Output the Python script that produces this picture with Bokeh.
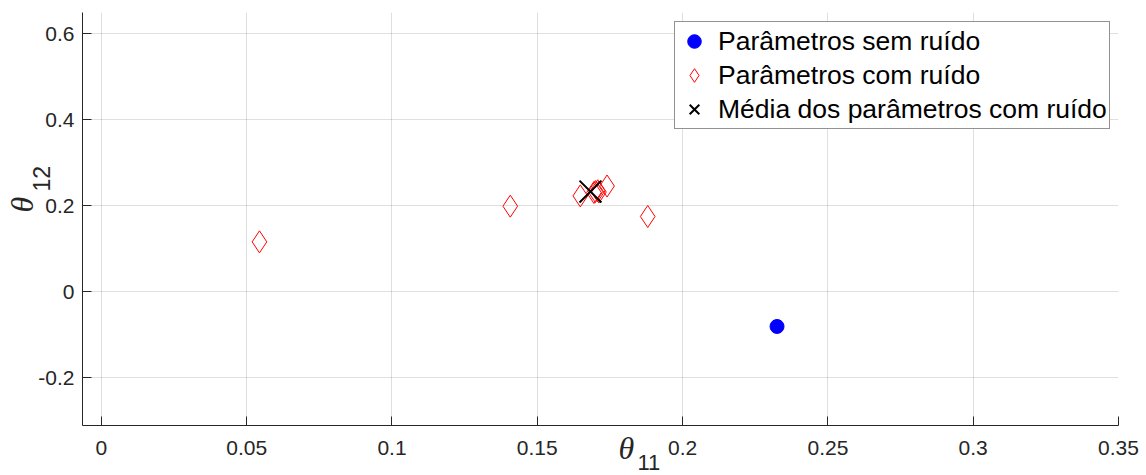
from bokeh.plotting import figure
from bokeh.models import Range1d, FixedTicker, Legend, LegendItem, Title
from bokeh.embed import file_html
from bokeh.resources import INLINE

# ---- data ----
clean_x = [0.2325]
clean_y = [-0.081]

noisy_x = [0.0544, 0.1407, 0.1880, 0.1648, 0.1695, 0.1700, 0.1708, 0.1712, 0.1740]
noisy_y = [0.116, 0.199, 0.175, 0.223, 0.231, 0.233, 0.235, 0.232, 0.246]

mean_x = [0.1683]
mean_y = [0.233]

x_ticks = [0, 0.05, 0.1, 0.15, 0.2, 0.25, 0.3, 0.35]
x_tick_labels = ["0", "0.05", "0.1", "0.15", "0.2", "0.25", "0.3", "0.35"]
y_ticks = [-0.2, 0, 0.2, 0.4, 0.6]
y_tick_labels = ["-0.2", "0", "0.2", "0.4", "0.6"]

legend_labels = ["Parâmetros sem ruído", "Parâmetros com ruído", "Média dos parâmetros com ruído"]
x_label = ("θ", "11")
y_label = ("θ", "12")

FONT = "Liberation Sans"
AX = "#262626"

p = figure(width=1146, height=475, output_backend="svg", toolbar_location=None,
           x_range=Range1d(-0.0065, 0.35), y_range=Range1d(-0.3116, 0.65))
p.min_border_left = 82
p.min_border_right = 28
p.min_border_top = 12
p.min_border_bottom = 50
p.outline_line_color = None
p.background_fill_color = "white"
p.border_fill_color = "white"

for ax, ticks, labels in ((p.xaxis[0], x_ticks, x_tick_labels), (p.yaxis[0], y_ticks, y_tick_labels)):
    ax.ticker = FixedTicker(ticks=ticks)
    ax.major_label_overrides = {t: l for t, l in zip(ticks, labels)}
    ax.major_tick_in = 9
    ax.major_tick_out = 0
    ax.minor_tick_line_color = None
    ax.axis_line_color = AX
    ax.major_tick_line_color = AX
    ax.major_label_text_color = AX
    ax.major_label_text_font = FONT
    ax.major_label_text_font_size = "21px"
p.xaxis.major_label_standoff = 15
p.yaxis.major_label_standoff = 8

p.grid.grid_line_color = AX
p.grid.grid_line_alpha = 0.15
p.xgrid.ticker = FixedTicker(ticks=x_ticks)
p.ygrid.ticker = FixedTicker(ticks=y_ticks)

r1 = p.scatter(clean_x, clean_y, marker="circle", size=14, fill_color="#0000ff", line_color="#0000ff")
r2 = p.scatter(noisy_x, noisy_y, marker="diamond", size=22, fill_color=None, line_color="#ff0000", line_width=1)
r3 = p.scatter(mean_x, mean_y, marker="x", size=31, line_color="black", line_width=2)

legend = Legend(items=[LegendItem(label=legend_labels[0], renderers=[r1]),
                       LegendItem(label=legend_labels[1], renderers=[r2]),
                       LegendItem(label=legend_labels[2], renderers=[r3])],
                location=(592, 296))
legend.label_text_font = FONT
legend.label_text_font_size = "26.5px"
legend.label_text_color = "black"
legend.glyph_width = 34
legend.glyph_height = 34
legend.label_height = 34
legend.spacing = 0
legend.padding = 2
legend.margin = 0
legend.label_standoff = 7
legend.border_line_color = AX
legend.border_line_width = 1
legend.background_fill_color = "white"
legend.background_fill_alpha = 1
p.add_layout(legend, "center")

# axis labels: theta with subscripts, as zero-height titles next to the frame
tx = Title(text=x_label[0], align="left", vertical_align="bottom", offset=536, standoff=-80,
           text_font="Liberation Serif", text_font_style="italic", text_font_size="32px", text_color=AX)
tx11 = Title(text=x_label[1], align="left", vertical_align="bottom", offset=555, standoff=-88,
             text_font=FONT, text_font_style="normal", text_font_size="22px", text_color=AX)
ty = Title(text=y_label[0], align="left", vertical_align="top", offset=213, standoff=-157,
           text_font="Liberation Serif", text_font_style="italic", text_font_size="32px", text_color=AX)
ty12 = Title(text=y_label[1], align="left", vertical_align="top", offset=234, standoff=-100,
             text_font=FONT, text_font_style="normal", text_font_size="23px", text_color=AX)
p.below = [tx, tx11] + list(p.below)
p.left = [ty, ty12] + list(p.left)

open("out.html", "w").write(file_html(p, INLINE))
